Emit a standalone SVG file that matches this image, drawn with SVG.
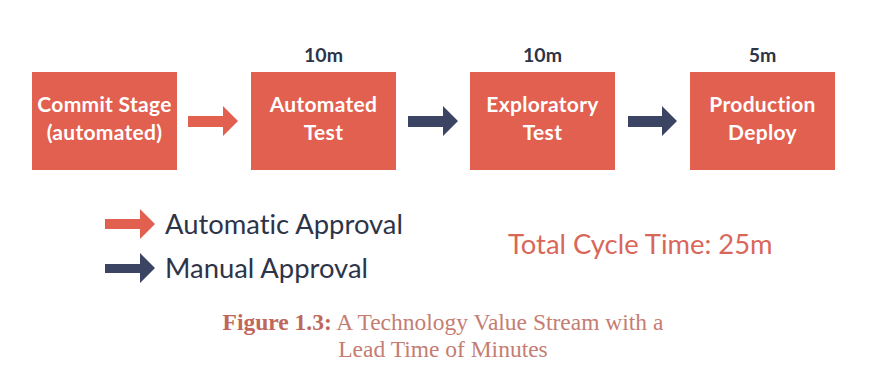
<svg xmlns="http://www.w3.org/2000/svg" width="876" height="388" viewBox="0 0 876 388">
<defs>
<style>
text{font-variant-ligatures:none}
.box{fill:#e2604f}
.bt{font-family:Lato,"Liberation Sans",sans-serif;font-weight:bold;font-size:21px;fill:#fff;text-anchor:middle;letter-spacing:0.3px}
.tm{font-family:Lato,"Liberation Sans",sans-serif;font-weight:bold;font-size:19.5px;fill:#2e3448;text-anchor:middle}
.auto{fill:#e2604f}
.man{fill:#3b4463}
.lg{font-family:Lato,"Liberation Sans",sans-serif;font-size:27.4px;fill:#2e3448}
.tot{font-family:Lato,"Liberation Sans",sans-serif;font-size:27.4px;fill:#d8675a}
.cap{font-family:"Liberation Serif",serif;font-size:23.5px;fill:#c57d72;text-anchor:middle}
</style>
</defs>
<rect width="876" height="388" fill="#fff"/>
<g id="commit"><rect class="box" x="32" y="72" width="145" height="98"/><text class="bt" x="104.5" y="112">Commit Stage</text><text class="bt" x="104.5" y="140">(automated)</text></g>
<g id="autotest"><rect class="box" x="251" y="72" width="145" height="98"/><text class="tm" x="323.5" y="62">10m</text><text class="bt" x="323.5" y="112">Automated</text><text class="bt" x="323.5" y="140">Test</text></g>
<g id="explore"><rect class="box" x="470" y="72" width="145" height="98"/><text class="tm" x="542.5" y="62">10m</text><text class="bt" x="542.5" y="112">Exploratory</text><text class="bt" x="542.5" y="140">Test</text></g>
<g id="deploy"><rect class="box" x="690" y="72" width="145" height="98"/><text class="tm" x="762.5" y="62">5m</text><text class="bt" x="762.5" y="112">Production</text><text class="bt" x="762.5" y="140">Deploy</text></g>
<g id="connectors">
<polygon class="auto" points="188,116 223,116 223,106 238,121 223,136 223,127 188,127"/>
<polygon class="man" points="408,116 443,116 443,106 458,121 443,136 443,127 408,127"/>
<polygon class="man" points="628,116 662,116 662,106 677,121 662,136 662,127 628,127"/>
</g>
<g id="legend">
<polygon class="auto" points="105,219 140,219 140,209 155,224 140,239 140,229 105,229"/>
<text class="lg" x="165" y="234">Automatic Approval</text>
<polygon class="man" points="105,264 140,264 140,253 155,268 140,283 140,273 105,273"/>
<text class="lg" x="165" y="278">Manual Approval</text>
</g>
<text class="tot" x="508" y="254">Total Cycle Time: 25m</text>
<text class="cap" x="443" y="330"><tspan font-weight="bold" fill="#c0675b">Figure 1.3:</tspan> A Technology Value Stream with a</text>
<text class="cap" x="443" y="357">Lead Time of Minutes</text>
</svg>
